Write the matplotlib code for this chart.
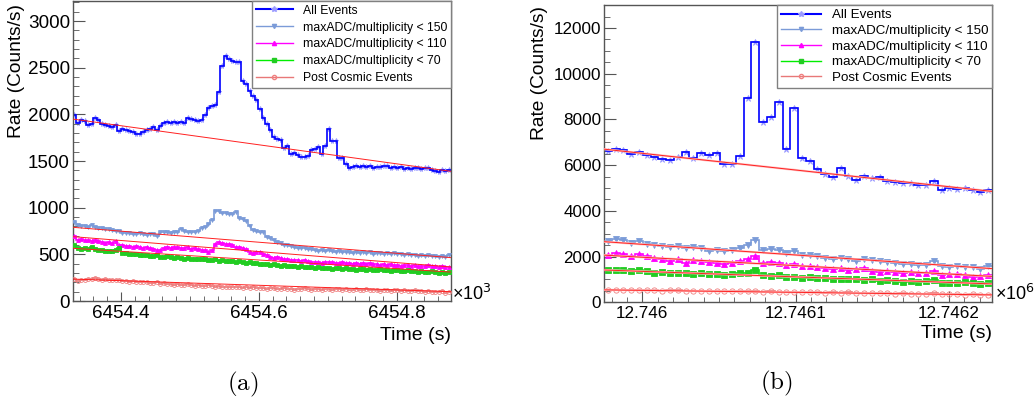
import numpy as np
import matplotlib.pyplot as plt
from matplotlib.lines import Line2D
from matplotlib.ticker import MultipleLocator, FuncFormatter

plt.rcParams['font.family'] = ['Liberation Sans', 'DejaVu Sans']

labels = ['All Events', 'maxADC/multiplicity < 150', 'maxADC/multiplicity < 110',
          'maxADC/multiplicity < 70', 'Post Cosmic Events']

# ---- panel (a): 110 bins, time in s
range_a = [6454330, 6454878]
all_a = [1990, 1910, 1935, 1930, 1890, 1900, 1965, 1940, 1900, 1885,
         1880, 1870, 1890, 1820, 1840, 1830, 1825, 1810, 1790, 1785,
         1815, 1835, 1845, 1870, 1830, 1880, 1905, 1915, 1910, 1915,
         1905, 1920, 1910, 1960, 1955, 1940, 1930, 1935, 1990, 2070,
         2085, 2100, 2240, 2520, 2630, 2590, 2575, 2565, 2560, 2360,
         2330, 2250, 2200, 2150, 2060, 1960, 1900, 1830, 1760, 1740,
         1730, 1640, 1660, 1580, 1590, 1560, 1545, 1540, 1555, 1620,
         1625, 1650, 1570, 1660, 1840, 1720, 1720, 1530, 1530, 1470,
         1420, 1440, 1445, 1440, 1450, 1435, 1445, 1420, 1435, 1440,
         1450, 1445, 1430, 1440, 1425, 1435, 1415, 1420, 1410, 1430,
         1425, 1410, 1420, 1430, 1400, 1395, 1380, 1405, 1390, 1400]
adc150_a = [845, 810, 800, 805, 795, 815, 790, 780, 785, 775,
            770, 760, 755, 745, 730, 725, 730, 720, 715, 725,
            720, 710, 720, 715, 700, 735, 740, 735, 730, 740,
            735, 775, 745, 740, 735, 740, 745, 780, 790, 830,
            870, 960, 965, 945, 940, 935, 930, 955, 890, 880,
            860, 800, 760, 750, 735, 735, 690, 680, 650, 630,
            620, 600, 595, 590, 575, 570, 565, 570, 555, 560,
            545, 540, 550, 535, 545, 540, 530, 535, 525, 520,
            525, 515, 520, 510, 525, 510, 520, 505, 515, 510,
            505, 510, 500, 515, 505, 500, 495, 505, 490, 495,
            485, 490, 480, 495, 485, 480, 470, 485, 475, 490]
adc110_a = [700, 655, 660, 650, 655, 645, 650, 640, 630, 625,
            630, 620, 645, 605, 600, 590, 585, 580, 590, 575,
            570, 575, 565, 560, 545, 550, 565, 575, 570, 580,
            575, 570, 565, 575, 560, 565, 555, 550, 545, 530,
            545, 610, 630, 625, 615, 615, 605, 575, 580, 570,
            560, 520, 515, 520, 525, 500, 490, 470, 465, 470,
            460, 455, 450, 440, 435, 440, 430, 435, 425, 420,
            415, 420, 410, 420, 415, 420, 410, 405, 415, 410,
            405, 400, 410, 400, 405, 395, 405, 400, 395, 390,
            400, 390, 395, 385, 390, 380, 390, 385, 375, 385,
            375, 380, 370, 385, 375, 370, 365, 375, 360, 365]
adc70_a = [600, 565, 560, 565, 555, 575, 555, 550, 545, 540,
           540, 535, 545, 565, 515, 510, 505, 500, 505, 495,
           490, 495, 485, 480, 490, 475, 470, 480, 470, 465,
           470, 460, 455, 465, 455, 450, 455, 445, 450, 440,
           440, 445, 430, 435, 430, 425, 430, 420, 425, 420,
           410, 415, 405, 410, 400, 395, 400, 390, 395, 385,
           380, 385, 375, 380, 370, 365, 370, 360, 365, 360,
           355, 360, 350, 355, 350, 345, 350, 355, 345, 350,
           340, 345, 335, 340, 345, 335, 340, 330, 335, 340,
           330, 335, 325, 330, 335, 325, 320, 330, 325, 320,
           315, 320, 310, 315, 320, 310, 305, 315, 305, 310]
post_a = [240, 215, 225, 230, 235, 240, 245, 240, 230, 235,
          225, 230, 220, 225, 210, 215, 205, 210, 200, 205,
          200, 205, 195, 190, 200, 185, 190, 180, 185, 175,
          180, 170, 175, 185, 170, 165, 170, 160, 165, 170,
          160, 155, 165, 150, 155, 150, 145, 155, 150, 140,
          145, 140, 150, 135, 140, 135, 130, 140, 135, 125,
          130, 135, 125, 130, 120, 125, 130, 135, 125, 120,
          130, 125, 120, 130, 125, 120, 125, 130, 120, 125,
          115, 120, 125, 115, 120, 125, 120, 115, 120, 110,
          115, 120, 110, 115, 120, 110, 115, 105, 110, 115,
          105, 110, 100, 105, 95, 100, 95, 105, 90, 100]
# fit lines (start, end)
fits_a = [[1950, 1390], [790, 465], [690, 365], [565, 310], [235, 100]]

# ---- panel (b): 50 bins
range_b = [12745975, 12746228]
all_b = [6600, 6700, 6670, 6500, 6570, 6455, 6340, 6265, 6240, 6350,
         6555, 6310, 6530, 6430, 6530, 6050, 6050, 6380, 8930, 11400,
         7910, 8100, 8780, 6720, 8500, 6300, 6200, 5830, 5620, 5500,
         5870, 5530, 5360, 5530, 5440, 5500, 5320, 5240, 5220, 5200,
         5140, 5110, 5290, 4920, 5000, 4960, 5000, 4920, 4830, 4930]
adc150_b = [2665, 2770, 2710, 2595, 2665, 2565, 2520, 2450, 2405, 2480,
            2375, 2420, 2375, 2230, 2275, 2230, 2275, 2375, 2520, 2740,
            2300, 2330, 2300, 2155, 2230, 2085, 2085, 2010, 1940, 1900,
            1940, 1870, 1820, 1900, 1835, 1790, 1750, 1720, 1690, 1675,
            1650, 1630, 1790, 1575, 1545, 1575, 1545, 1530, 1470, 1575]
adc110_b = [2085, 2155, 2110, 2040, 2110, 2040, 1940, 1900, 1790, 1870,
            1720, 1835, 1790, 1780, 1720, 1675, 1720, 1790, 1900, 2010,
            1720, 1750, 1720, 1650, 1690, 1600, 1575, 1530, 1500, 1460,
            1500, 1430, 1460, 1500, 1360, 1315, 1360, 1330, 1290, 1315,
            1260, 1290, 1360, 1170, 1245, 1215, 1170, 1110, 1140, 1170]
adc70_b = [1430, 1430, 1400, 1385, 1400, 1360, 1290, 1315, 1290, 1260,
           1290, 1245, 1260, 1215, 1215, 1185, 1215, 1260, 1290, 1430,
           1170, 1140, 1170, 1110, 1110, 1065, 1095, 1065, 1040, 1020,
           995, 1020, 995, 950, 995, 920, 950, 920, 890, 920,
           875, 920, 950, 850, 850, 820, 875, 820, 775, 820]
post_b = [550, 540, 545, 525, 535, 520, 515, 505, 520, 540,
          500, 490, 505, 490, 480, 495, 475, 480, 500, 485,
          460, 470, 455, 445, 460, 430, 445, 435, 420, 440,
          415, 430, 405, 415, 400, 390, 405, 380, 395, 375,
          380, 365, 385, 350, 360, 345, 330, 350, 325, 335]
fits_b = [[6700, 4850], [2650, 1470], [2060, 1130], [1410, 800], [540, 320]]

line_col = ['#0000ff', '#7b9bd8', '#ff00ff', '#00ee00', '#e87878']
mark_col = ['#9a9aff', '#7b9bd8', '#ff00ff', '#22cc22', '#f08080']
markers = ['*', 'v', '^', 's', 'o']


def draw(ax, rng, series, fits, msize, band):
    edges = np.linspace(rng[0], rng[1], len(series[0]) + 1)
    centers = (edges[:-1] + edges[1:]) / 2
    for i, vals in enumerate(series):
        ax.stairs(vals, edges, baseline=None, color=line_col[i], lw=1.2, zorder=2)
        face = 'none' if markers[i] == 'o' else mark_col[i]
        ms = msize * 1.3 if markers[i] == '*' else msize
        ax.plot(centers, vals, ls='none', marker=markers[i], ms=ms,
                mfc=face, mec=mark_col[i], mew=0.6, zorder=1.5 if i == 0 else 3)
    for f in fits:
        if band:
            ax.plot(rng, f, color='#ffc4c4', lw=1.6, zorder=3.5)
        ax.plot(rng, f, color='#ff2020', lw=0.7, zorder=4)
    ax.set_xlim(rng)


fig = plt.figure(figsize=(10.35, 4.0), dpi=100)
ax_a = fig.add_axes([0.0702, 0.2475, 0.3652, 0.75])
ax_b = fig.add_axes([0.5836, 0.2445, 0.3749, 0.743])

draw(ax_a, range_a, [all_a, adc150_a, adc110_a, adc70_a, post_a], fits_a, 2.8, False)
draw(ax_b, range_b, [all_b, adc150_b, adc110_b, adc70_b, post_b], fits_b, 3.8, True)

ax_a.set_ylim(0, 3215)
ax_b.set_ylim(0, 13010)

ax_a.xaxis.set_major_locator(MultipleLocator(200))
ax_a.xaxis.set_minor_locator(MultipleLocator(20))
ax_a.yaxis.set_major_locator(MultipleLocator(500))
ax_a.yaxis.set_minor_locator(MultipleLocator(100))
ax_a.xaxis.set_major_formatter(FuncFormatter(lambda v, p: f'{v / 1e3:g}'))
ax_b.xaxis.set_major_locator(MultipleLocator(100))
ax_b.xaxis.set_minor_locator(MultipleLocator(10))
ax_b.yaxis.set_major_locator(MultipleLocator(2000))
ax_b.yaxis.set_minor_locator(MultipleLocator(500))
ax_b.xaxis.set_major_formatter(FuncFormatter(lambda v, p: f'{v / 1e6:g}'))

for ax, fs, xl in [(ax_a, 13.6, 6.5), (ax_b, 12.3, 8)]:
    for s in ax.spines.values():
        s.set_color('#555555')
        s.set_linewidth(1.0)
    ax.tick_params(axis='both', which='both', direction='in', colors='#555555',
                   labelcolor='black', top=False, right=False)
    ax.tick_params(axis='y', which='major', length=8.5, labelsize=fs, pad=2)
    ax.tick_params(axis='y', which='minor', length=4.5)
    ax.tick_params(axis='x', which='major', length=xl, labelsize=fs, pad=3)
    ax.tick_params(axis='x', which='minor', length=3.5)

handles = []
for i in range(5):
    face = 'none' if markers[i] == 'o' else mark_col[i]
    handles.append(Line2D([], [], color=line_col[i], lw=1.5 if i == 0 else 1.0,
                          marker=markers[i], ms=4 if i == 0 else 3, mfc=face,
                          mec=mark_col[i]))

for ax, fs, sp in [(ax_a, 8.8, 0.4), (ax_b, 9.6, 0.25)]:
    leg = ax.legend(handles, labels, loc='upper right', bbox_to_anchor=(1, 1),
                    borderaxespad=0, fontsize=fs, fancybox=False, framealpha=1,
                    edgecolor='#808080', handlelength=3.0, handletextpad=0.8,
                    labelspacing=sp, borderpad=0.3, numpoints=1)
    leg.get_frame().set_linewidth(1.0)
    leg.set_zorder(10)

# axis titles, ROOT style
fig.text(17 / 1035, 1 - 4 / 400, 'Rate (Counts/s)', rotation=90, ha='center', va='top', fontsize=13.8)
fig.text(539 / 1035, 1 - 6 / 400, 'Rate (Counts/s)', rotation=90, ha='center', va='top', fontsize=13.8)
fig.text(450.7 / 1035, 1 - 335 / 400, 'Time (s)', ha='right', va='center', fontsize=14)
fig.text(992 / 1035, 1 - 334 / 400, 'Time (s)', ha='right', va='center', fontsize=14)
fig.text(452 / 1035, 1 - 294 / 400, '×10$^{3}$', ha='left', va='center', fontsize=13)
fig.text(995 / 1035, 1 - 294 / 400, '×10$^{6}$', ha='left', va='center', fontsize=13)

fig.text(243 / 1035, 1 - 384 / 400, r'$\mathrm{(a)}$', math_fontfamily='cm', fontsize=18,
         ha='center', va='center')
fig.text(776 / 1035, 1 - 383 / 400, r'$\mathrm{(b)}$', math_fontfamily='cm', fontsize=18,
         ha='center', va='center')

fig.savefig('out.png', dpi=100)
